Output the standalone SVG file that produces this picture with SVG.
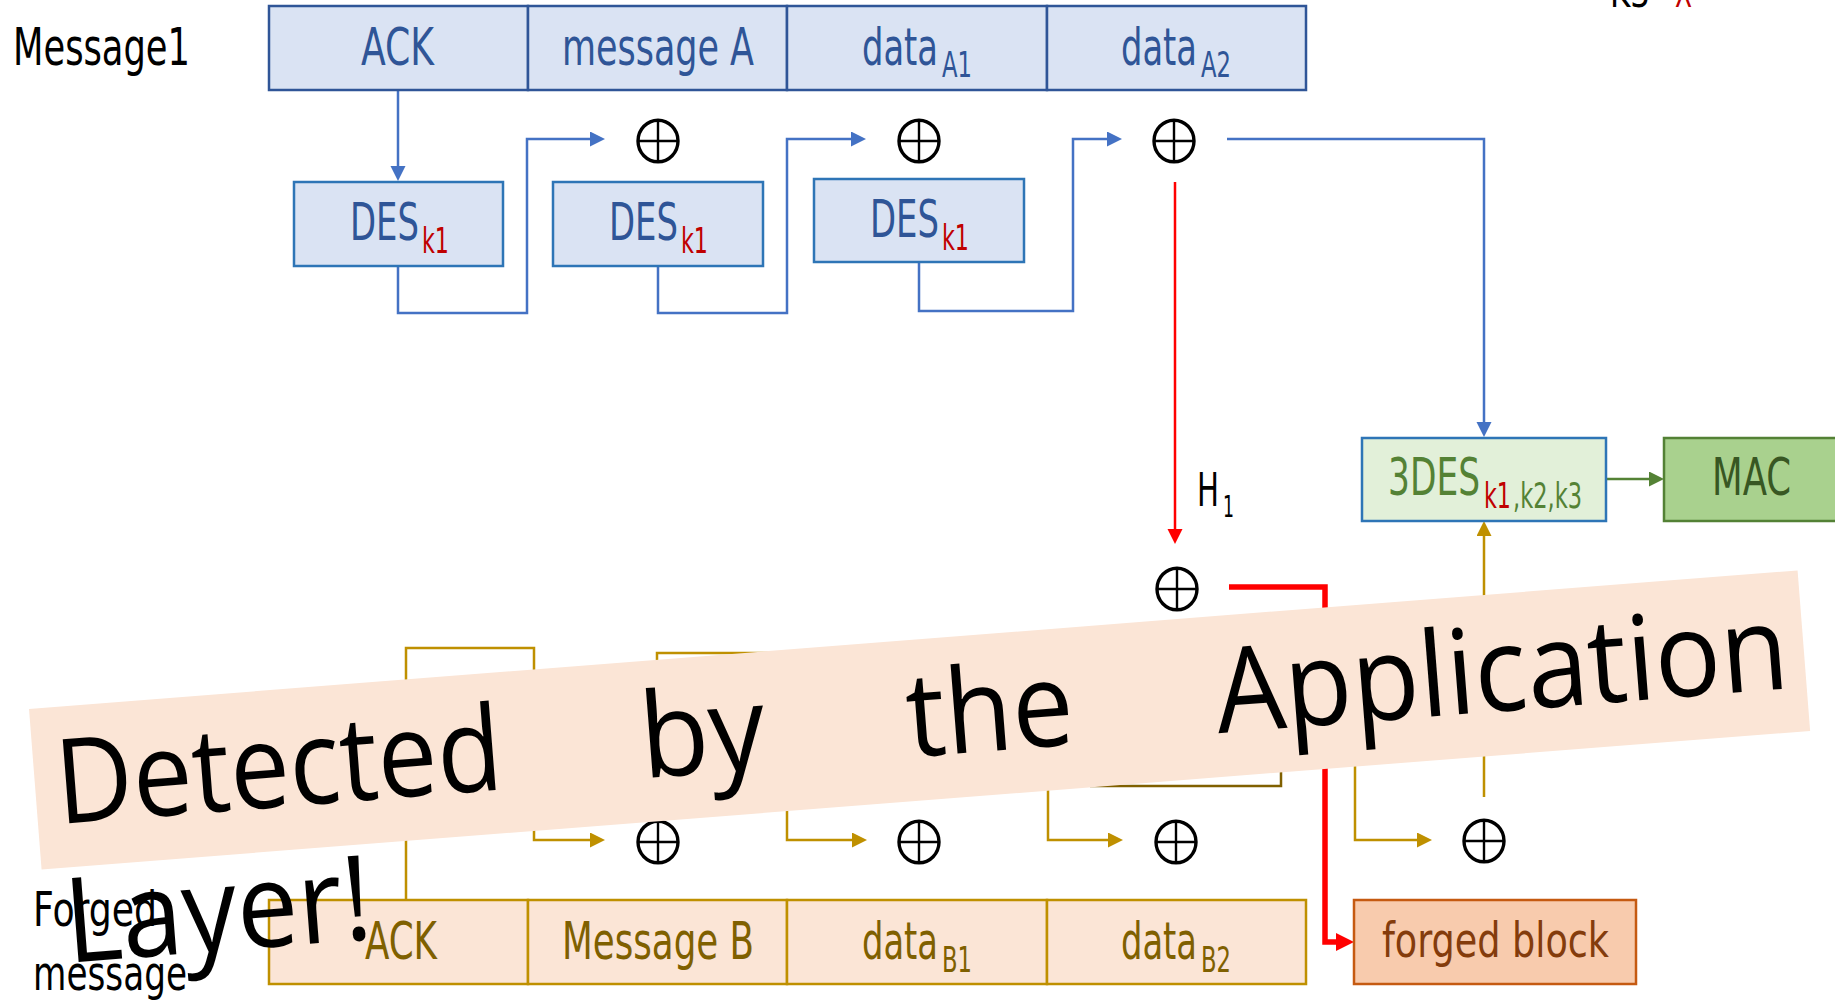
<svg xmlns="http://www.w3.org/2000/svg" width="1835" height="1001" viewBox="0 0 1835 1001">
<defs>
<style>
.lbl{font-family:"Liberation Sans Narrow","DejaVu Sans Condensed","Roboto Condensed","Liberation Sans",sans-serif;}
.big{font-size:52px}
.sub{font-size:35px}
.tb{fill:#2F5597}
.tr{fill:#C00000}
.tg{fill:#548235}
.tgold{fill:#7F6000}
.boxA{fill:#DAE3F3;stroke:#2F5597;stroke-width:2.5}
.boxD{fill:#DAE3F3;stroke:#2E75B6;stroke-width:2.5}
.boxB{fill:#FBE5D6;stroke:#BF9000;stroke-width:2.5}
.cb{fill:none;stroke:#4472C4;stroke-width:2.5}
.cg{fill:none;stroke:#BF9000;stroke-width:2.5}
.cr{fill:none;stroke:#FF0000;stroke-width:2.5}
.crt{fill:none;stroke:#FF0000;stroke-width:5.5}
.cgr{fill:none;stroke:#548235;stroke-width:2.5}
.ban{font-family:"Open Sans","Noto Sans","DejaVu Sans",sans-serif;font-size:118px;fill:#000}
</style>
<marker id="mb" markerUnits="userSpaceOnUse" markerWidth="16" markerHeight="16" refX="10" refY="7.5" orient="auto"><path d="M0,0 L15,7.5 L0,15 z" fill="#4472C4"/></marker>
<marker id="mg" markerUnits="userSpaceOnUse" markerWidth="16" markerHeight="16" refX="10" refY="7.5" orient="auto"><path d="M0,0 L15,7.5 L0,15 z" fill="#BF9000"/></marker>
<marker id="mr" markerUnits="userSpaceOnUse" markerWidth="16" markerHeight="16" refX="10" refY="7.5" orient="auto"><path d="M0,0 L15,7.5 L0,15 z" fill="#FF0000"/></marker>
<marker id="mrt" markerUnits="userSpaceOnUse" markerWidth="20" markerHeight="20" refX="12" refY="9" orient="auto"><path d="M0,0 L18,9 L0,18 z" fill="#FF0000"/></marker>
<marker id="mgr" markerUnits="userSpaceOnUse" markerWidth="16" markerHeight="16" refX="10" refY="7.5" orient="auto"><path d="M0,0 L15,7.5 L0,15 z" fill="#548235"/></marker>
<g id="xor"><ellipse cx="0" cy="0" rx="20" ry="20.8" fill="none" stroke="#000" stroke-width="3.4"/><path d="M0,-21 V21 M-20,0 H20" stroke="#000" stroke-width="2.4"/></g>
</defs>
<rect width="1835" height="1001" fill="#fff"/>

<g id="connectors">
<path class="cb" d="M398,90 V176" marker-end="url(#mb)"/>
<path class="cb" d="M398,266 V313 H527 V139 H600" marker-end="url(#mb)"/>
<path class="cb" d="M658,266 V313 H787 V139 H861" marker-end="url(#mb)"/>
<path class="cb" d="M919,262 V311 H1073 V139 H1117" marker-end="url(#mb)"/>
<path class="cb" d="M1227,139 H1484 V432" marker-end="url(#mb)"/>
<path class="cr" d="M1175,182 V539" marker-end="url(#mr)"/>
<path class="crt" d="M1229,587 H1325 V942 H1348" marker-end="url(#mrt)"/>
<path class="cgr" d="M1606,479 H1659" marker-end="url(#mgr)"/>
<path class="cg" d="M1484,797 V526" marker-end="url(#mg)"/>
<path class="cg" d="M406,900 V648 H534 V840 H600" marker-end="url(#mg)"/>
<path class="cg" d="M657,720 V653 H787 V840 H862" marker-end="url(#mg)"/>
<path class="cg" d="M1048,760 V840 H1118" marker-end="url(#mg)"/>
<path class="cg" d="M1355,740 V840 H1427" marker-end="url(#mg)"/>
<path d="M1090,786 H1281 V755" fill="none" stroke="#806000" stroke-width="2.5"/>
</g>

<g id="label-message1"><text class="lbl big" x="13" y="65" textLength="177" lengthAdjust="spacingAndGlyphs" fill="#000">Message1</text></g>
<g id="label-k3"><text class="lbl" font-size="42" y="7"><tspan x="1610" textLength="40" lengthAdjust="spacingAndGlyphs" fill="#000">K3</tspan><tspan x="1675" textLength="17" lengthAdjust="spacingAndGlyphs" class="tr">X</tspan></text></g>

<g id="a-ack"><rect class="boxA" x="269" y="6" width="259" height="84"/><text class="lbl big tb" x="361" y="65" textLength="73" lengthAdjust="spacingAndGlyphs">ACK</text></g>
<g id="a-msg"><rect class="boxA" x="528" y="6" width="259" height="84"/><text class="lbl big tb" x="562" y="65" textLength="192" lengthAdjust="spacingAndGlyphs">message A</text></g>
<g id="a-d1"><rect class="boxA" x="787" y="6" width="260" height="84"/><text class="lbl tb"><tspan class="big" x="862" y="65" textLength="76" lengthAdjust="spacingAndGlyphs">data</tspan><tspan class="sub" x="942" y="77" textLength="30" lengthAdjust="spacingAndGlyphs">A1</tspan></text></g>
<g id="a-d2"><rect class="boxA" x="1047" y="6" width="259" height="84"/><text class="lbl tb"><tspan class="big" x="1121" y="65" textLength="76" lengthAdjust="spacingAndGlyphs">data</tspan><tspan class="sub" x="1201" y="77" textLength="30" lengthAdjust="spacingAndGlyphs">A2</tspan></text></g>

<g id="des1"><rect class="boxD" x="294" y="182" width="209" height="84"/><text class="lbl"><tspan class="big tb" x="350" y="240" textLength="69" lengthAdjust="spacingAndGlyphs">DES</tspan><tspan class="sub tr" x="422" y="253" textLength="27" lengthAdjust="spacingAndGlyphs">k1</tspan></text></g>
<g id="des2"><rect class="boxD" x="553" y="182" width="210" height="84"/><text class="lbl"><tspan class="big tb" x="609" y="240" textLength="69" lengthAdjust="spacingAndGlyphs">DES</tspan><tspan class="sub tr" x="681" y="253" textLength="27" lengthAdjust="spacingAndGlyphs">k1</tspan></text></g>
<g id="des3"><rect class="boxD" x="814" y="179" width="210" height="83"/><text class="lbl"><tspan class="big tb" x="870" y="237" textLength="69" lengthAdjust="spacingAndGlyphs">DES</tspan><tspan class="sub tr" x="942" y="250" textLength="27" lengthAdjust="spacingAndGlyphs">k1</tspan></text></g>

<g id="xor-a1"><use href="#xor" x="658" y="141"/></g>
<g id="xor-a2"><use href="#xor" x="919" y="141"/></g>
<g id="xor-a3"><use href="#xor" x="1174" y="141"/></g>
<g id="xor-h1"><use href="#xor" x="1177" y="589"/></g>
<g id="xor-b1"><use href="#xor" x="658" y="842"/></g>
<g id="xor-b2"><use href="#xor" x="919" y="842"/></g>
<g id="xor-b3"><use href="#xor" x="1176" y="842"/></g>
<g id="xor-b4"><use href="#xor" x="1484" y="841"/></g>

<g id="label-h1"><text class="lbl" fill="#000"><tspan x="1197" y="506" font-size="46" textLength="22" lengthAdjust="spacingAndGlyphs">H</tspan><tspan x="1223" y="517" font-size="31" textLength="11" lengthAdjust="spacingAndGlyphs">1</tspan></text></g>

<g id="tdes"><rect x="1362" y="438" width="244" height="83" fill="#E2F0D9" stroke="#2E75B6" stroke-width="2.5"/><text class="lbl"><tspan class="big tg" x="1388" y="495" textLength="92" lengthAdjust="spacingAndGlyphs">3DES</tspan><tspan class="sub tr" x="1484" y="508" textLength="27" lengthAdjust="spacingAndGlyphs">k1</tspan><tspan class="sub tg" x="1513" y="508" textLength="69" lengthAdjust="spacingAndGlyphs">,k2,k3</tspan></text></g>
<g id="mac"><rect x="1664" y="438" width="200" height="83" fill="#A9D18E" stroke="#538135" stroke-width="2.5"/><text class="lbl big" x="1712" y="495" textLength="79" lengthAdjust="spacingAndGlyphs" fill="#385723">MAC</text></g>

<g id="b-ack"><rect class="boxB" x="269" y="900" width="259" height="84"/><text class="lbl big tgold" x="365" y="959" textLength="72" lengthAdjust="spacingAndGlyphs">ACK</text></g>
<g id="b-msg"><rect class="boxB" x="528" y="900" width="259" height="84"/><text class="lbl big tgold" x="562" y="959" textLength="192" lengthAdjust="spacingAndGlyphs">Message B</text></g>
<g id="b-d1"><rect class="boxB" x="787" y="900" width="260" height="84"/><text class="lbl tgold"><tspan class="big" x="862" y="959" textLength="76" lengthAdjust="spacingAndGlyphs">data</tspan><tspan class="sub" x="942" y="972" textLength="30" lengthAdjust="spacingAndGlyphs">B1</tspan></text></g>
<g id="b-d2"><rect class="boxB" x="1047" y="900" width="259" height="84"/><text class="lbl tgold"><tspan class="big" x="1121" y="959" textLength="76" lengthAdjust="spacingAndGlyphs">data</tspan><tspan class="sub" x="1201" y="972" textLength="30" lengthAdjust="spacingAndGlyphs">B2</tspan></text></g>

<g id="forged"><rect x="1354" y="900" width="282" height="84" fill="#F8CBAD" stroke="#C55A11" stroke-width="2.5"/><text class="lbl" font-size="48" x="1382" y="957" textLength="227" lengthAdjust="spacingAndGlyphs" fill="#843C0C">forged block</text></g>

<g id="label-forged"><text class="lbl" font-size="48" fill="#000"><tspan x="33" y="926" textLength="124" lengthAdjust="spacingAndGlyphs">Forged</tspan><tspan x="33" y="990" textLength="154" lengthAdjust="spacingAndGlyphs">message</tspan></text></g>

<g id="banner" transform="translate(29,709) rotate(-4.48)">
<rect x="0" y="0" width="1774" height="161" fill="#FBE5D6"/>
<text class="ban" x="21" y="117" textLength="447" lengthAdjust="spacingAndGlyphs">Detected</text>
<text class="ban" x="607" y="117" textLength="125" lengthAdjust="spacingAndGlyphs">by</text>
<text class="ban" x="874" y="117" textLength="167" lengthAdjust="spacingAndGlyphs">the</text>
<text class="ban" x="1184" y="117" textLength="574" lengthAdjust="spacingAndGlyphs">Application</text>
<text class="ban" x="19" y="256" textLength="307" lengthAdjust="spacingAndGlyphs">Layer!</text>
</g>
</svg>
